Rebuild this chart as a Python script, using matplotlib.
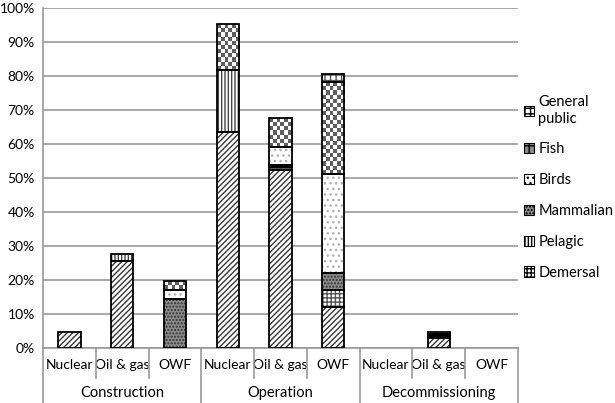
import matplotlib
matplotlib.use('Agg')
import matplotlib.pyplot as plt
from matplotlib.patches import Patch
import numpy as np

plt.rcParams['font.family'] = ['Lato', 'DejaVu Sans']
plt.rcParams['hatch.linewidth'] = 1.0

# data (percent)
phases = ['Construction', 'Operation', 'Decommissioning']
sources = ['Nuclear', 'Oil & gas', 'OWF']
benthic = [4.7, 25.6, 0, 63.5, 52.4, 12.0, 0, 3.0, 0]
demersal = [0, 0, 0, 0, 0.7, 5.0, 0, 0.6, 0]
pelagic = [0, 2.0, 0, 18.3, 0, 0, 0, 0, 0]
mammalian = [0, 0, 14.4, 0, 0.7, 5.0, 0, 0.5, 0]
birds = [0, 0, 2.6, 0, 5.3, 29.2, 0, 0, 0]
fish = [0, 0, 2.7, 13.5, 8.5, 27.0, 0, 0, 0]
general_public = [0, 0, 0, 0, 0, 2.4, 0, 0.6, 0]

series = [
    ('Benthic', benthic, 'white', '//////', '#3a3a3a'),
    ('Demersal', demersal, 'white', '++++', '#555555'),
    ('Pelagic', pelagic, 'white', '|||||', '#444444'),
    ('Mammalian', mammalian, '#8a8a8a', '.....', '#333333'),
    ('Birds', birds, 'white', '...', '#b0b0b0'),
    ('Fish', fish, 'white', None, '#555555'),
    ('General\npublic', general_public, 'white', '+++', '#555555'),
]

fig = plt.figure(figsize=(6.15, 4.03), dpi=100)
ax = fig.add_axes([0.070, 0.1365, 0.772, 0.8435])

x = np.arange(len(benthic))
width = 0.42
bottom = np.zeros(len(x))
handles = []
checker = (np.add.outer(np.arange(80), np.arange(6)) % 2).astype(float)
for name, vals, fc, hatch, hc in series:
    vals = np.array(vals, dtype=float)
    bars = ax.bar(x, vals, width, bottom=bottom, color=fc, hatch=hatch,
                  edgecolor=hc, linewidth=0, zorder=3)
    if hatch is None:
        # checkerboard fill
        for b, v in zip(bars, vals):
            if v <= 0:
                continue
            x0, y0 = b.get_x(), b.get_y()
            ny = max(1, int(round(v / 1.2)))
            im = ax.imshow(checker[:ny], cmap='gray', vmin=-0.6, vmax=1.0,
                           extent=(x0, x0 + width, y0, y0 + v), aspect='auto',
                           interpolation='nearest', zorder=3, origin='lower')
            im.set_clip_path(b)
    mask = vals > 0
    ax.bar(x[mask], vals[mask], width, bottom=bottom[mask], fill=False,
           edgecolor='black', linewidth=1.3, zorder=4)
    bottom += vals
    if name != 'Benthic':
        handles.append(Patch(facecolor='#8a8a8a' if hatch is None else fc,
                             hatch='++' if hatch is None else hatch,
                             edgecolor='black', linewidth=0.8, label=name))

ax.set_xlim(-0.5, len(x) - 0.5)
ax.set_ylim(0, 100)
ax.set_aspect('auto')
ax.set_yticks(np.arange(0, 101, 10))
ax.set_yticklabels([f'{v}%' for v in range(0, 101, 10)], fontsize=10)
ax.yaxis.grid(True, color='#999999', linewidth=1.2, zorder=0)
ax.tick_params(axis='y', length=0, pad=6)
ax.tick_params(axis='x', length=0, pad=8)
ax.set_xticks(x)
ax.set_xticklabels(sources * 3, fontsize=10)
for s in ['top', 'right']:
    ax.spines[s].set_visible(False)
ax.spines['left'].set_color('#999999')
ax.spines['bottom'].set_color('#999999')
ax.spines['left'].set_linewidth(1.2)
ax.spines['bottom'].set_linewidth(1.2)

# category separators and phase labels
trans = ax.get_xaxis_transform()
for i in range(0, len(x) + 1):
    low = -0.165 if i % 3 == 0 else -0.088
    ax.plot([i - 0.5, i - 0.5], [0, low], transform=trans, color='#999999',
            linewidth=1.2, clip_on=False)
for k, ph in enumerate(phases):
    ax.text(3 * k + 1, -0.132, ph, transform=trans, ha='center', va='center',
            fontsize=10.5)

leg = ax.legend(handles=handles[::-1], loc='upper left', bbox_to_anchor=(1.0, 0.76),
                frameon=False, fontsize=10.5, handlelength=0.7, handleheight=0.7,
                handletextpad=0.3, labelspacing=1.15, borderaxespad=0)

fig.savefig('out.png', dpi=100)
